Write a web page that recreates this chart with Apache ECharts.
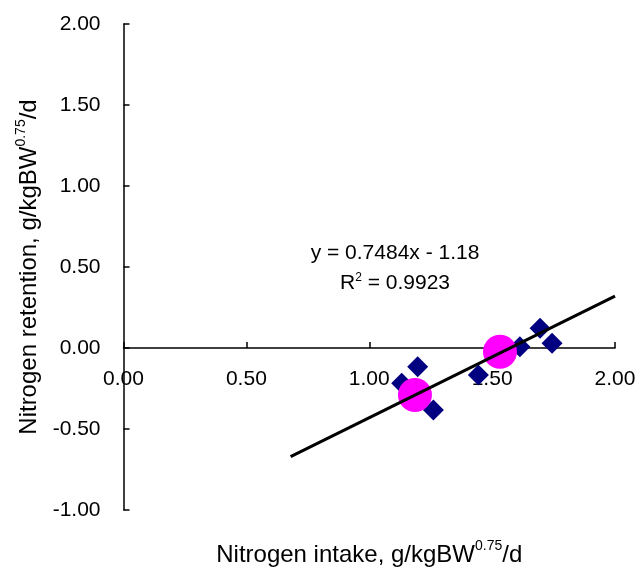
<!DOCTYPE html>
<html>
<head>
<meta charset="utf-8">
<script src="https://cdn.jsdelivr.net/npm/echarts@6/dist/echarts.min.js"></script>
<style>
html,body{margin:0;padding:0;background:#fff;}
#chart{width:644px;height:569px;}
</style>
</head>
<body>
<div id="chart"></div>
<script>
// Data
var diamondPoints = [[1.197,-0.115],[1.132,-0.218],[1.261,-0.383],[1.444,-0.167],[1.613,0.008],[1.695,0.122],[1.744,0.029]];
var circlePoints = [[1.186,-0.29],[1.532,-0.023]];
var trendLine = [[0.68,-0.67],[2.00,0.32]];
var xTicks = {min:0, max:2, interval:0.5};
var yTicks = {min:-1, max:2, interval:0.5};
var xName = '{base|Nitrogen intake, g/kgBW}{sup|0.75}{base|/d}';
var yName = '{base|Nitrogen retention, g/kgBW}{sup|0.75}{base|/d}';
var eqLine1 = 'y = 0.7484x - 1.18';
var eqLine2 = 'R{sup|2} = 0.9923';

var FONT = 'Liberation Sans, Arial, sans-serif';
var chart = echarts.init(document.getElementById('chart'), null, {renderer:'canvas'});
var supRich = {
  base:{fontSize:24, fontFamily:FONT, color:'#000', lineHeight:28, verticalAlign:'bottom'},
  sup:{fontSize:14, fontFamily:FONT, color:'#000', lineHeight:28, verticalAlign:'top'}
};
chart.setOption({
  backgroundColor:'#fff',
  animation:false,
  grid:{left:123.5, right:29, top:24, bottom:59, containLabel:false, outerBoundsMode:'none'},
  xAxis:{
    type:'value', min:xTicks.min, max:xTicks.max, interval:xTicks.interval,
    position:'bottom', offset:-162,
    axisLine:{onZero:false, lineStyle:{color:'#000', width:1.5}},
    axisTick:{inside:true, length:6, lineStyle:{color:'#000', width:1.5}},
    splitLine:{show:false},
    axisLabel:{formatter:function(v){return v.toFixed(2);}, color:'#000', fontSize:21, fontFamily:FONT, margin:21},
    name:xName,
    nameLocation:'middle', nameGap:191,
    nameTextStyle:{rich:supRich}
  },
  yAxis:{
    type:'value', min:yTicks.min, max:yTicks.max, interval:yTicks.interval,
    axisLine:{onZero:false, lineStyle:{color:'#000', width:1.5}},
    axisTick:{inside:true, length:6, lineStyle:{color:'#000', width:1.5}},
    splitLine:{show:false},
    axisLabel:{formatter:function(v){return v.toFixed(2);}, color:'#000', fontSize:21, fontFamily:FONT, margin:23},
    name:yName,
    nameLocation:'middle', nameGap:76,
    nameTextStyle:{rich:supRich}
  },
  series:[
    {type:'scatter', data:diamondPoints, symbol:'diamond', symbolSize:21,
     itemStyle:{color:'#000080', opacity:1}, z:2},
    {type:'scatter', data:circlePoints, symbol:'circle', symbolSize:34,
     itemStyle:{color:'#ff00ff', opacity:1}, z:3},
    {type:'line', data:trendLine, symbol:'none', lineStyle:{color:'#000', width:3}, z:4}
  ],
  graphic:[
    {type:'text', x:395, y:253, style:{text:eqLine1, fontSize:21, fontFamily:FONT, fill:'#000', align:'center', verticalAlign:'middle'}},
    {type:'text', x:395, y:283, style:{text:eqLine2, fontSize:21, fontFamily:FONT, fill:'#000', align:'center', verticalAlign:'middle',
      rich:{sup:{fontSize:12, fontFamily:FONT, fill:'#000', verticalAlign:'top', lineHeight:22}}}}
  ]
});
</script>
</body>
</html>
